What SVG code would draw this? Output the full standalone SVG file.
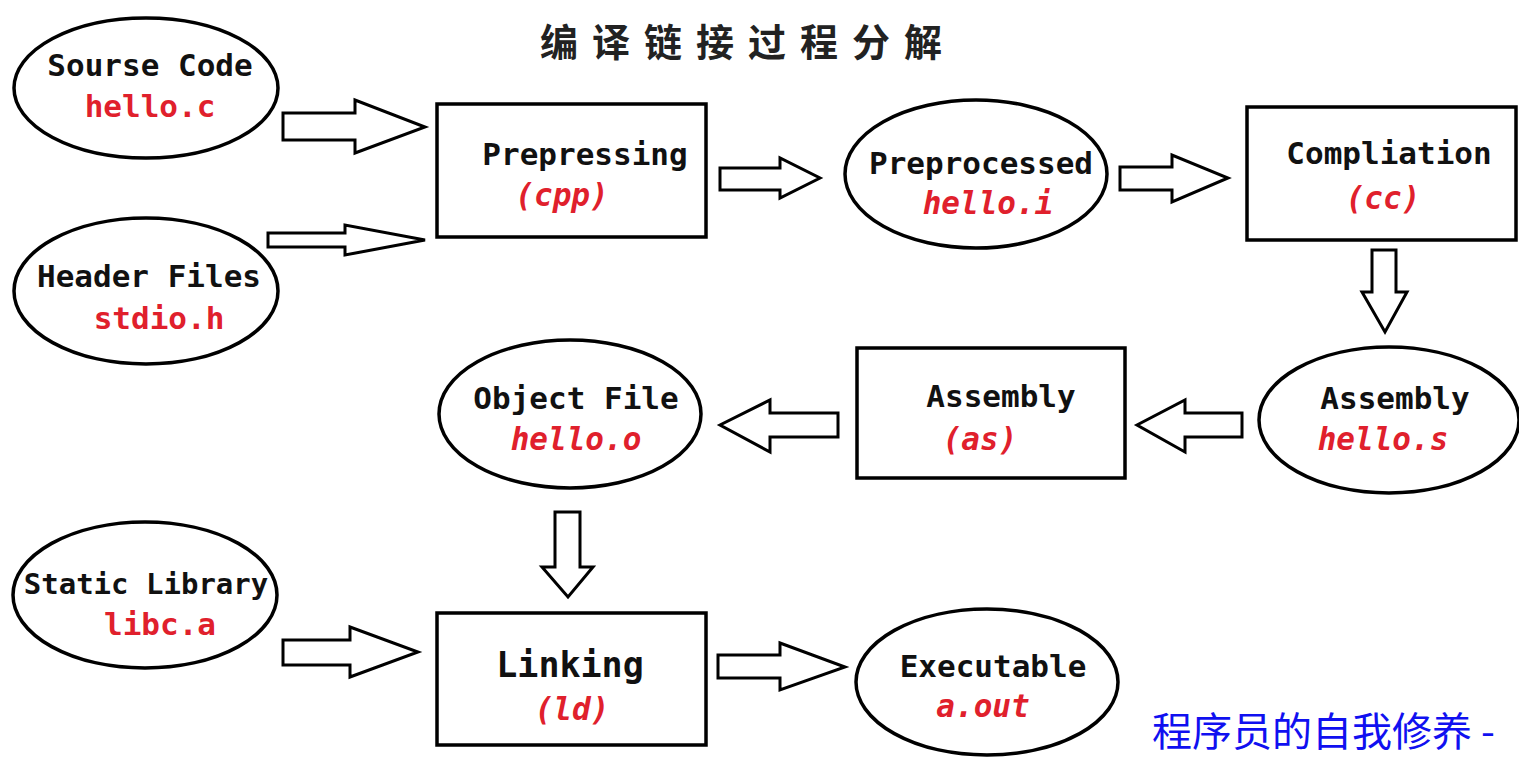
<svg xmlns="http://www.w3.org/2000/svg" width="1519" height="757" viewBox="0 0 1519 757">
<style>
.sh{fill:#fff;stroke:#000;stroke-width:3.5}
.ar{fill:#fff;stroke:#000;stroke-width:3;stroke-linejoin:miter}
.t{font-family:"DejaVu Sans Mono","Liberation Mono",monospace;font-weight:bold;font-size:31px;fill:#111;text-anchor:middle}
.r{font-family:"DejaVu Sans Mono","Liberation Mono",monospace;font-weight:bold;font-size:31px;fill:#e0202c;text-anchor:middle}
.i{font-style:italic}
</style>
<rect width="1519" height="757" fill="#fff"/>
<text x="540" y="56" style="font-family:'Noto Sans CJK SC',sans-serif;font-weight:bold;font-size:38px;letter-spacing:14px;fill:#222">编译链接过程分解</text>

<g id="connectors">
<polygon class="ar" points="283,113 355,113 355,100 425,127 355,153 355,140 283,140"/>
<polygon class="ar" points="268,233 345,233 345,225 425,240 345,255 345,247 268,247"/>
<polygon class="ar" points="720,168 780,168 780,158 820,178 780,198 780,190 720,190"/>
<polygon class="ar" points="1120,167 1172,167 1172,155 1228,178 1172,202 1172,190 1120,190"/>
<polygon class="ar" points="1372,250 1396,250 1396,292 1407,292 1385,332 1362,292 1372,292"/>
<polygon class="ar" points="1242,413 1185,413 1185,400 1137,425 1185,452 1185,437 1242,437"/>
<polygon class="ar" points="838,413 770,413 770,400 720,425 770,452 770,437 838,437"/>
<polygon class="ar" points="555,512 580,512 580,567 593,567 568,597 542,567 555,567"/>
<polygon class="ar" points="283,640 350,640 350,627 418,652 350,677 350,665 283,665"/>
<polygon class="ar" points="718,655 780,655 780,643 845,667 780,690 780,678 718,678"/>
</g>

<g id="source">
<ellipse class="sh" cx="146" cy="88" rx="132" ry="70"/>
<text class="t" x="150" y="76">Sourse Code</text>
<text class="r" x="150" y="117">hello.c</text>
</g>
<g id="header">
<ellipse class="sh" cx="146" cy="291" rx="132" ry="73"/>
<text class="t" x="149" y="287">Header Files</text>
<text class="r" x="159" y="329">stdio.h</text>
</g>
<g id="prepressing">
<rect class="sh" x="437" y="104" width="269" height="133"/>
<text class="t" x="585" y="165">Prepressing</text>
<text class="r i" x="562" y="206">(cpp)</text>
</g>
<g id="preprocessed">
<ellipse class="sh" cx="976" cy="174" rx="131" ry="74"/>
<text class="t" x="981" y="174">Preprocessed</text>
<text class="r i" x="988" y="214">hello.i</text>
</g>
<g id="compliation">
<rect class="sh" x="1247" y="107" width="269" height="133"/>
<text class="t" x="1389" y="164">Compliation</text>
<text class="r i" x="1383" y="209">(cc)</text>
</g>
<g id="assembly-s">
<ellipse class="sh" cx="1389" cy="420" rx="130" ry="73"/>
<text class="t" x="1395" y="409">Assembly</text>
<text class="r i" x="1383" y="450">hello.s</text>
</g>
<g id="assembly-as">
<rect class="sh" x="857" y="348" width="268" height="130"/>
<text class="t" x="1001" y="407">Assembly</text>
<text class="r i" x="980" y="450">(as)</text>
</g>
<g id="object">
<ellipse class="sh" cx="570" cy="414" rx="131" ry="74"/>
<text class="t" x="576" y="409">Object File</text>
<text class="r i" x="576" y="450">hello.o</text>
</g>
<g id="static">
<ellipse class="sh" cx="145" cy="595" rx="132" ry="73"/>
<text class="t" x="146" y="594" style="font-size:29px">Static Library</text>
<text class="r" x="160" y="635">libc.a</text>
</g>
<g id="linking">
<rect class="sh" x="437" y="613" width="269" height="132"/>
<text class="t" x="570" y="677" style="font-size:35px">Linking</text>
<text class="r i" x="572" y="720">(ld)</text>
</g>
<g id="executable">
<ellipse class="sh" cx="987" cy="682" rx="131" ry="73"/>
<text class="t" x="993" y="677">Executable</text>
<text class="r i" x="983" y="717">a.out</text>
</g>
<text x="1152" y="746" style="font-family:'Noto Sans CJK SC',sans-serif;font-size:40px;fill:#1010f0">程序员的自我修养 -</text>
</svg>
